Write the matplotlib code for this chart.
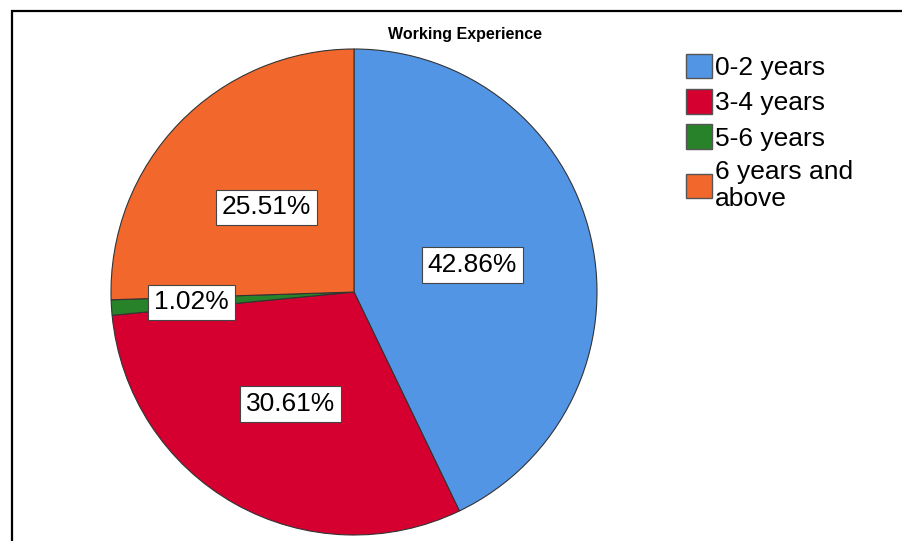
import numpy as np
import matplotlib
matplotlib.use("Agg")
import matplotlib.pyplot as plt
from matplotlib.patches import Rectangle

plt.rcParams['font.family'] = ['Liberation Sans', 'DejaVu Sans']

# Working experience of respondents (percent)
categories = ['0-2 years', '3-4 years', '5-6 years', '6 years and\nabove']
percents = [42.86, 30.61, 1.02, 25.51]
colors = ['#5395E5', '#D5002F', '#27822A', '#F2682C']

W, H = 902, 541
fig = plt.figure(figsize=(W / 100, H / 100), dpi=100)

# pie centre and radius in pixels
cx, cy, r = 354, 292, 243
ax = fig.add_axes([(cx - r) / W, (H - cy - r) / H, 2 * r / W, 2 * r / H])

wedges, texts, autotexts = ax.pie(
    percents, colors=colors, startangle=90, counterclock=False,
    autopct='%.2f%%', pctdistance=0.5,
    wedgeprops=dict(edgecolor='#333333', linewidth=0.8),
    textprops=dict(fontsize=19, color='black'))
ax.set_xlim(-1, 1)
ax.set_ylim(-1, 1)
ax.set_aspect('equal')
ax.axis('off')

# label distance from the centre, per slice
dist = [0.5, 0.53, 0.67, 0.5]
for w, t, d in zip(wedges, autotexts, dist):
    mid = np.deg2rad((w.theta1 + w.theta2) / 2)
    t.set_position((d * np.cos(mid), d * np.sin(mid)))
    t.set_bbox(dict(boxstyle='square,pad=0.22', facecolor='white',
                    edgecolor='#444444', linewidth=0.8))

fig.text(465 / W, 1 - 34 / H, 'Working Experience', ha='center', va='center',
         fontsize=11.5, fontweight='bold')

leg = fig.legend(wedges, categories, loc='upper left',
                 bbox_to_anchor=(686 / W, 1 - 54 / H), frameon=False,
                 fontsize=19, handlelength=1.0, handleheight=1.05,
                 handletextpad=0.1, labelspacing=0.34, borderpad=0,
                 borderaxespad=0)
for p in leg.get_patches():
    p.set_edgecolor('#555555')
    p.set_linewidth(1.0)

# outer frame
fig.patches.append(Rectangle((12 / W, -0.1), 1.2, 1 - 11 / H + 0.1,
                             transform=fig.transFigure, fill=False,
                             edgecolor='black', linewidth=1.6))

fig.savefig('out.png', dpi=100)
